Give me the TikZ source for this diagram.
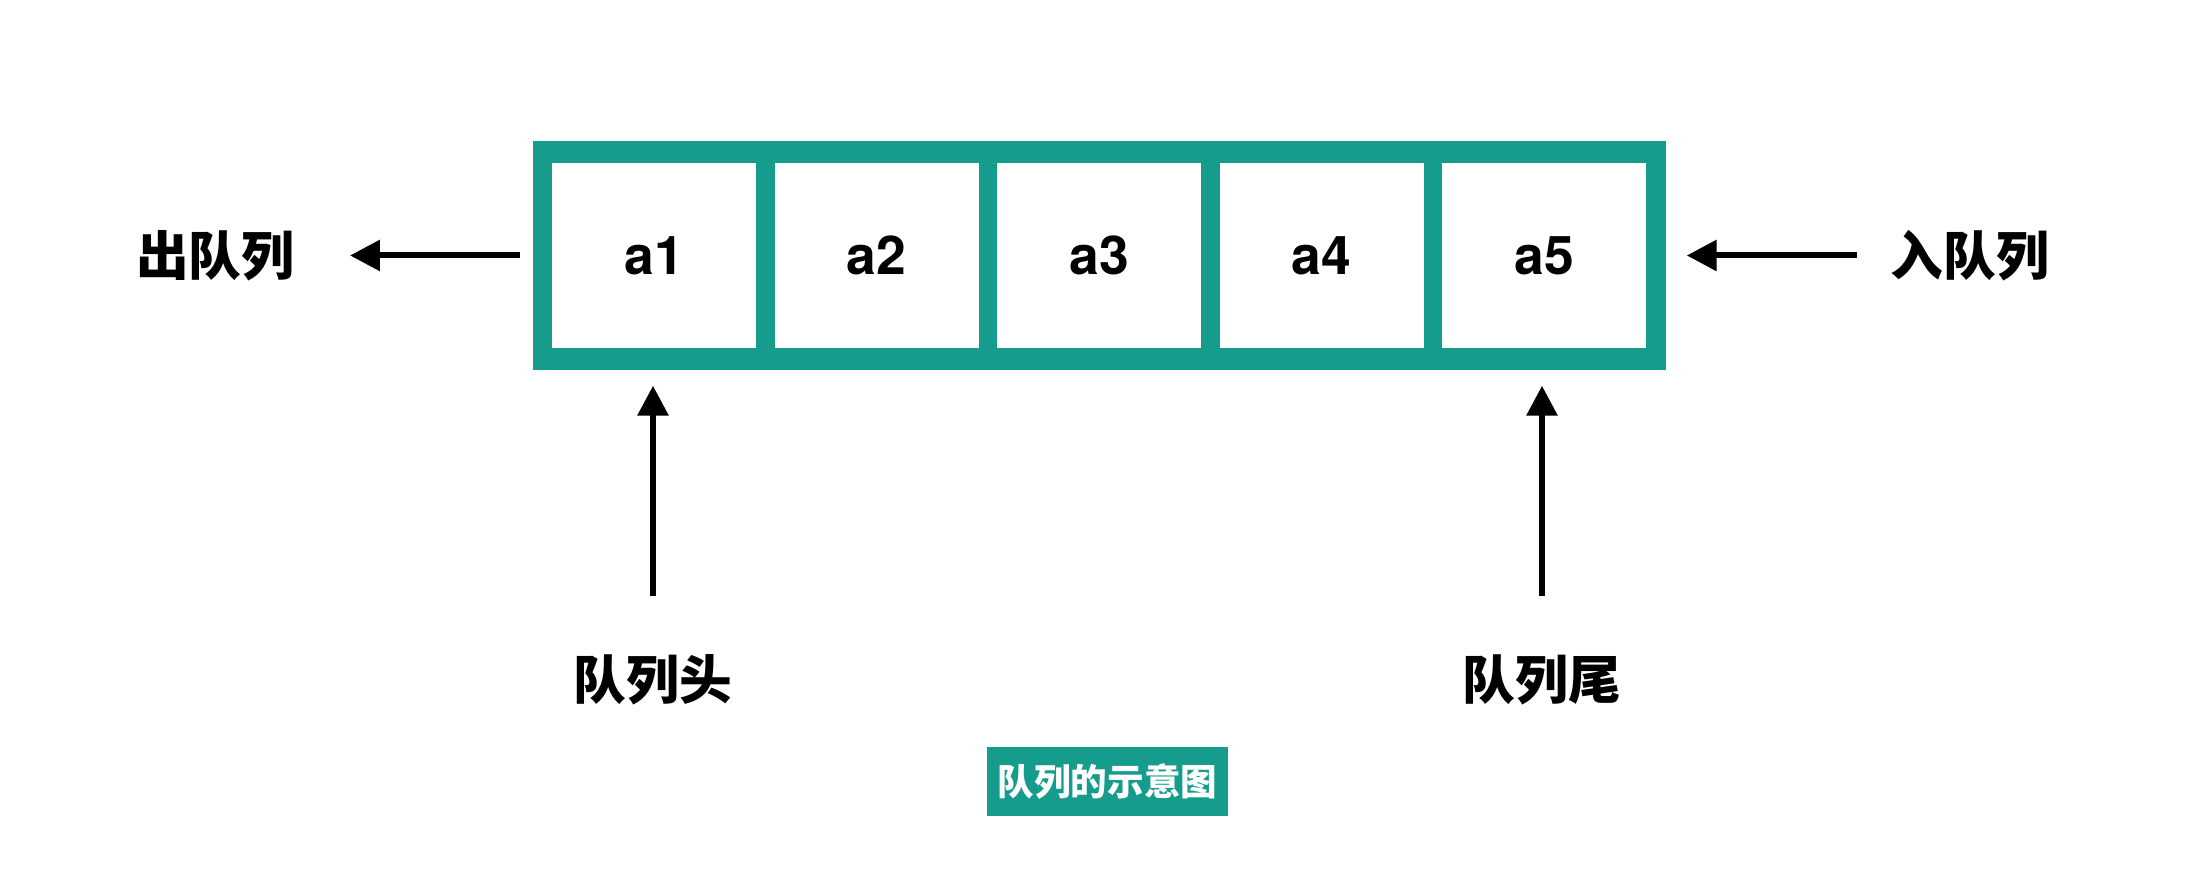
\documentclass[tikz,border=0pt]{standalone}
\usepackage{xcolor}
\usepackage{fontspec}
\usepackage{tikz}
\usetikzlibrary{arrows.meta}
\setmainfont{TeX Gyre Heros}
\newfontfamily\cjk{Noto Sans CJK SC}

\definecolor{qteal}{HTML}{169C8D}

\tikzset{
    cell/.style={fill=white, minimum width=2.04cm, minimum height=1.85cm, inner sep=0pt,
        font=\fontsize{15.2pt}{17pt}\selectfont\bfseries},
    lbl/.style={inner sep=0pt, font=\cjk\bfseries\fontsize{15pt}{17pt}\selectfont},
    arr/.style={line width=1.7pt, -{Triangle[length=8.5pt,width=8.5pt]}}
}

\begin{document}
\begin{tikzpicture}
    \useasboundingbox (0,0) rectangle (21.96,8.96);

    % Queue frame
    \node[fill=qteal, minimum width=11.33cm, minimum height=2.29cm, inner sep=0pt] (queue) at (10.995,6.405) {};

    % Cells
    \node[cell] (c1) at (6.54,6.405) {a1};
    \node[cell] (c2) at (8.765,6.405) {a2};
    \node[cell] (c3) at (10.99,6.405) {a3};
    \node[cell] (c4) at (13.215,6.405) {a4};
    \node[cell] (c5) at (15.44,6.405) {a5};

    % Side labels
    \node[lbl, anchor=east] (outlbl) at (2.95,6.405) {出队列};
    \node[lbl, anchor=west] (inlbl) at (18.90,6.405) {入队列};

    % Head and tail labels
    \node[lbl, anchor=north] (headlbl) at (6.53,2.42) {队列头};
    \node[lbl, anchor=north] (taillbl) at (15.42,2.42) {队列尾};

    % Dequeue and enqueue arrows
    \draw[arr, shorten <=0.12cm, shorten >=0.55cm] (queue.west) -- (outlbl.east);
    \draw[arr, shorten <=0.33cm, shorten >=0.2cm] (inlbl.west) -- (queue.east);

    % Head and tail arrows
    \draw[arr, shorten <=0.58cm, shorten >=0.15cm] (headlbl.north) -- (headlbl.north |- queue.south);
    \draw[arr, shorten <=0.58cm, shorten >=0.15cm] (taillbl.north) -- (taillbl.north |- queue.south);

    % Caption
    \node[fill=qteal, text=white, minimum width=2.41cm, minimum height=0.69cm, inner sep=0pt,
        font=\cjk\bfseries\fontsize{10.4pt}{12pt}\selectfont] (caption) at (11.075,1.145) {队列的示意图};
\end{tikzpicture}
\end{document}
